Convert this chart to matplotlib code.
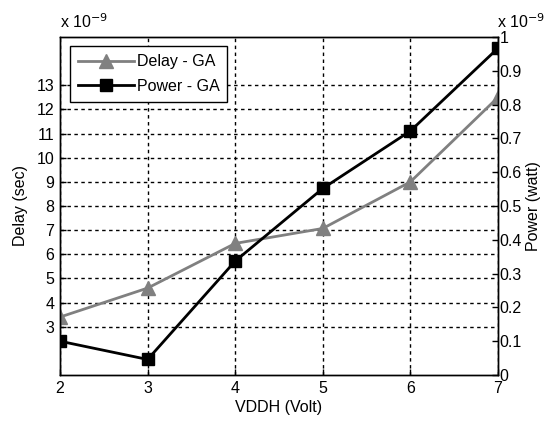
import matplotlib.pyplot as plt

plt.rcParams['font.family'] = ['Liberation Sans', 'DejaVu Sans']
plt.rcParams['font.size'] = 11.5

# datos (unidades de 1e-9)
vddh = [2, 3, 4, 5, 6, 7]
delay_ga = [3.4, 4.6, 6.45, 7.07, 9.0, 12.5]
power_ga = [0.1, 0.046, 0.337, 0.552, 0.722, 0.967]

delay_ticks = [3, 4, 5, 6, 7, 8, 9, 10, 11, 12, 13]
power_ticks = [0, 0.1, 0.2, 0.3, 0.4, 0.5, 0.6, 0.7, 0.8, 0.9, 1]

fig = plt.figure(figsize=(5.44, 4.25), dpi=100)
ax = fig.add_axes([60/544, 1 - 375/425, 438/544, 338/425])
ax2 = ax.twinx()

l1, = ax.plot(vddh, delay_ga, color='#808080', lw=2, marker='^', ms=10, label='Delay - GA')
l2, = ax2.plot(vddh, power_ga, color='black', lw=2, marker='s', ms=9, label='Power - GA')

ax.set_xlim(2, 7)
ax.set_ylim(1, 15)
ax2.set_ylim(0, 1)
ax.set_xticks(vddh)
ax.set_yticks(delay_ticks)
ax2.set_yticks(power_ticks)
ax2.set_yticklabels(['0', '0.1', '0.2', '0.3', '0.4', '0.5', '0.6', '0.7', '0.8', '0.9', '1'])

ax.grid(True, color='black', ls=(0, (2.5, 2.5)), lw=1)
ax.tick_params(direction='in', length=4, width=1, pad=4)
ax2.tick_params(direction='in', length=4, width=1, pad=1)
for a in (ax, ax2):
    for s in a.spines.values():
        s.set_linewidth(1)

ax.set_xlabel('VDDH (Volt)', labelpad=3)
ax.set_ylabel('Delay (sec)', labelpad=6)
ax2.set_ylabel('Power (watt)', labelpad=3)

# factores de escala estilo MATLAB
fig.text(60/544, 1 - 22/425, 'x 10$^{-9}$', ha='left', va='center')
fig.text(497/544, 1 - 22/425, 'x 10$^{-9}$', ha='left', va='center')

ax.legend(handles=[l1, l2], loc='upper left', bbox_to_anchor=(0.022, 0.972),
          fancybox=False, edgecolor='black', framealpha=1, handlelength=3.5,
          borderpad=0.5, labelspacing=0.6, handletextpad=0.2, borderaxespad=0)

fig.savefig('out.png', dpi=100, facecolor='white')
